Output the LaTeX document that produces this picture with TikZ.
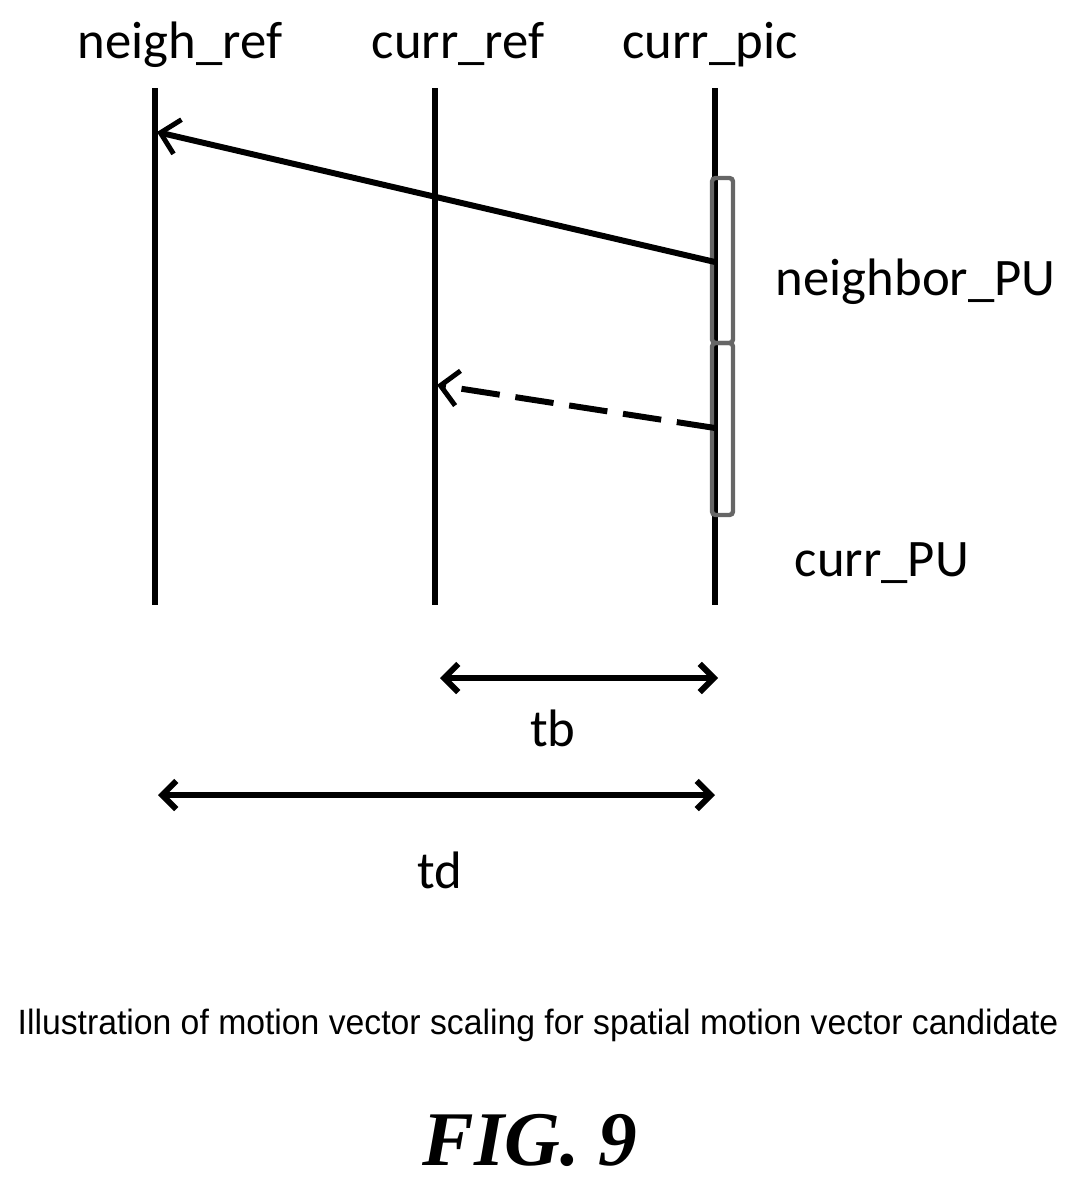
\documentclass[tikz,border=0pt]{standalone}
\usepackage{fontspec}
\setmainfont{Carlito}
\newfontfamily\capfont{Liberation Sans}
\newfontfamily\figfont{Liberation Serif}
\usetikzlibrary{arrows.meta}
\begin{document}
\begin{tikzpicture}[x=0.02cm,y=-0.02cm,line width=2.4pt]
        \tikzstyle{label}=[font=\fontsize{30}{36}\selectfont]
        \tikzstyle{timeline}=[line width=3pt]
        \tikzstyle{mv}=[-{Straight Barb[length=10pt,width=20pt,line width=2.8pt]},line width=3.4pt]
        \tikzstyle{span}=[{Straight Barb[length=8pt,width=16pt]}-{Straight Barb[length=8pt,width=16pt]},line width=3.4pt]
        \tikzstyle{pu}=[draw=black!60,line width=2.5pt,rounded corners=2pt]
        \useasboundingbox (0,0) rectangle (1076,1190);

        % Draw the picture timelines
        \foreach \name / \x / \lx in {neigh_ref/155/180, curr_ref/435/458, curr_pic/715/710} {
            \coordinate (\name-top) at (\x,88);
            \coordinate (\name-bot) at (\x,605);
            \draw[timeline] (\name-top) -- (\name-bot);
            \node[label,anchor=base] at (\lx,58) {\detokenize\expandafter{\name}};
        }

        % Prediction units on the current picture
        \draw[pu] (712,178) rectangle (733,343);
        \draw[pu] (712,343) rectangle (733,515);
        \node[label,anchor=west] (nPU) at (768,282) {neighbor\_PU};
        \node[label,anchor=west] (cPU) at (787,563) {curr\_PU};

        % Motion vectors
        \coordinate (nmv-start) at (715,262);
        \coordinate (nmv-end) at (157,132);
        \coordinate (cmv-start) at (715,428);
        \coordinate (cmv-end) at (437,385);
        \draw[mv] (nmv-start) -- (nmv-end);
        \draw[mv,dash pattern=on 22pt off 9pt] (cmv-start) -- (cmv-end);

        % Temporal distances
        \coordinate (tb-l) at (440,678);
        \coordinate (tb-r) at (718,678);
        \coordinate (td-l) at (158,795);
        \coordinate (td-r) at (715,795);
        \draw[span] (tb-l) -- (tb-r);
        \draw[span] (td-l) -- (td-r);
        \node[label] (tb) at (553,728) {tb};
        \node[label] (td) at (440,870) {td};

        % Caption
        \node (cap) at (538,1025) {\scalebox{0.96}[1]{\capfont\fontsize{20}{24}\selectfont Illustration of motion vector scaling for spatial motion vector candidate}};
        \node (fig) at (530,1140) {\figfont\fontsize{44}{50}\selectfont\bfseries\itshape FIG. 9};
\end{tikzpicture}
\end{document}
